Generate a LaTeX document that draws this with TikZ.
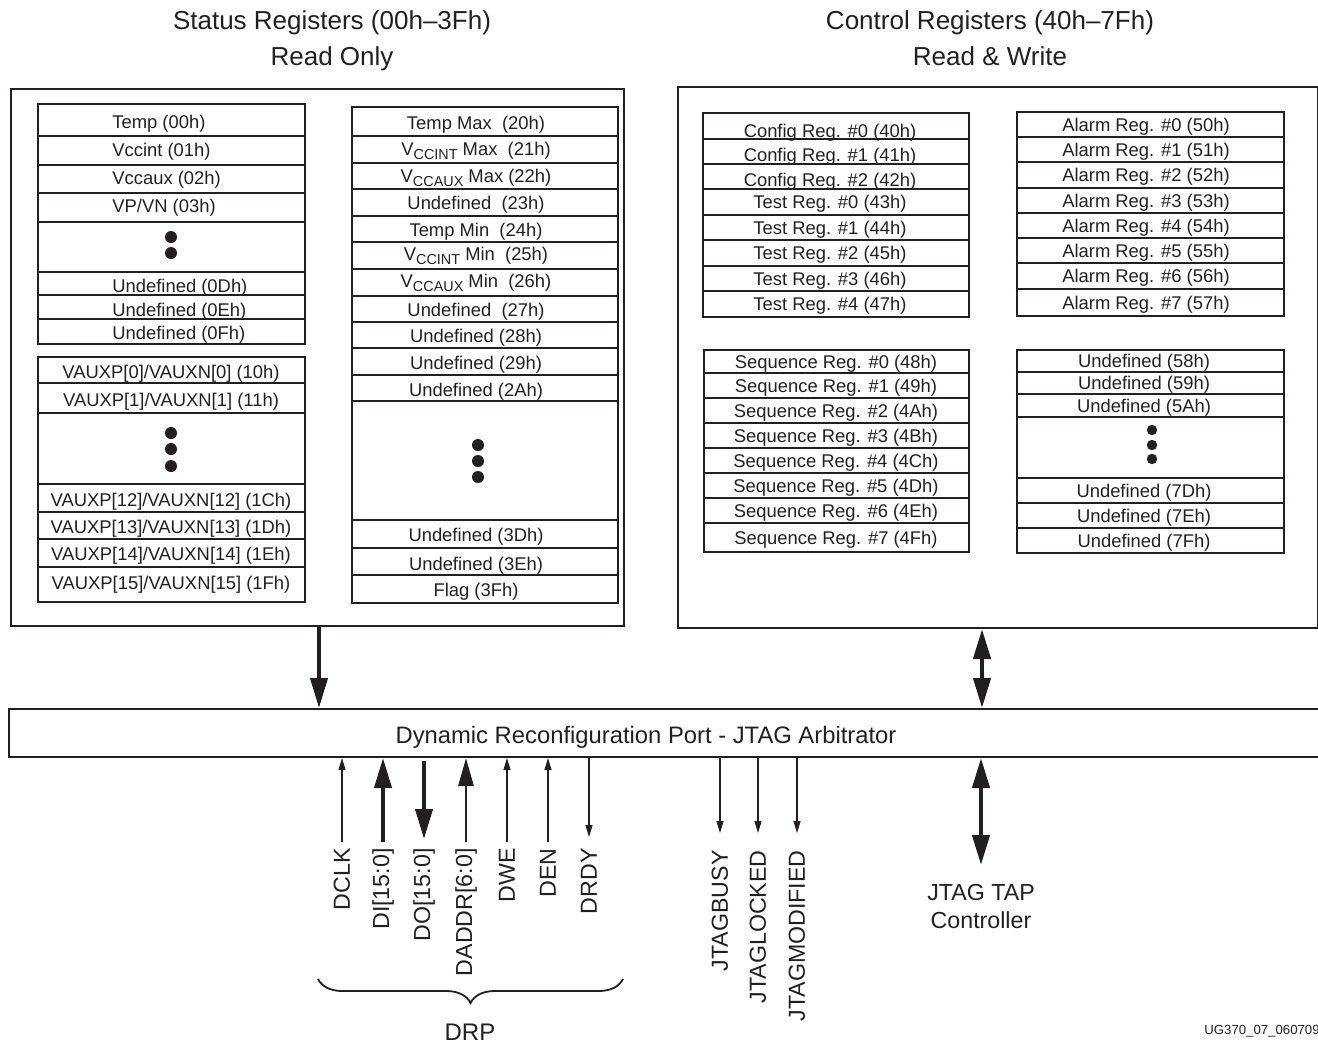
\documentclass[tikz,border=0pt]{standalone}
\usepackage{fontspec}
\setmainfont{Liberation Sans}
\usetikzlibrary{arrows.meta,decorations.pathreplacing}
\definecolor{ink}{RGB}{35,31,32}
\newcommand{\vsub}[1]{V\raisebox{-2.3pt}{\fontsize{7.2}{8}\selectfont #1}}
\tikzset{
  bigbox/.style={draw=ink, line width=1pt, rectangle, inner sep=0pt, anchor=north west},
  regbox/.style={draw=ink, line width=1.3pt},
  regline/.style={draw=ink, line width=0.6pt},
  reg/.style={text=ink, inner sep=0pt, font=\fontsize{9.2}{11}\selectfont},
  title/.style={text=ink, inner sep=0pt, font=\fontsize{13}{15}\selectfont},
  sig/.style={text=ink, inner sep=0pt, rotate=90, anchor=east, font=\fontsize{11.6}{14}\selectfont},
  thinarrow/.style={draw=ink, line width=0.6pt, -{Triangle[length=6pt,width=3.5pt]}},
  busarrow/.style={draw=ink, line width=2pt, -{Triangle[length=15pt,width=8.5pt]}},
  midarrow/.style={draw=ink, line width=1.4pt, -{Triangle[length=14pt,width=7.5pt]}},
  dblarrow/.style={draw=ink, line width=2.2pt, {Triangle[length=15pt,width=8.5pt]}-{Triangle[length=15pt,width=8.5pt]}}
}
\begin{document}
\begin{tikzpicture}[x=0.5pt,y=-0.5pt]
\useasboundingbox (0,0) rectangle (1318,1046);

\draw (332,23) node[title] (sttitle) {Status Registers (00h--3Fh)};
\draw (332,59) node[title] (stmode) {Read Only};
\draw (990,23) node[title] (cttitle) {Control Registers (40h--7Fh)};
\draw (990,56) node[title] (ctmode) {Read \& Write};

\draw (10,88) node[bigbox, minimum width=306.5pt, minimum height=268.5pt] (status) {};
\draw (677,86) node[bigbox, minimum width=320pt, minimum height=270.5pt] (control) {};
\draw (8,708) node[bigbox, minimum width=656.5pt, minimum height=24pt] (drp) {};
\draw (646,737) node[text=ink, inner sep=0pt, font=\fontsize{11.9}{14}\selectfont] (drptext) {Dynamic Reconfiguration Port - JTAG Arbitrator};

% status registers 00h-0Fh
\draw[regline] (38,136) -- (305,136) (38,165) -- (305,165) (38,193) -- (305,193)
  (38,222) -- (305,222) (38,272) -- (305,272) (38,295) -- (305,295) (38,319) -- (305,319);
\draw[regbox] (38,104) rectangle (305,344);
\draw (112,123.5) node[reg, anchor=west] (temp) {Temp (00h)};
\draw (112,151.5) node[reg, anchor=west] (vccint) {Vccint (01h)};
\draw (112,179.5) node[reg, anchor=west] (vccaux) {Vccaux (02h)};
\draw (112,207.5) node[reg, anchor=west] (vpvn) {VP/VN (03h)};
\fill[ink] (171,237) circle (3pt) (171,253) circle (3pt);
\draw (112,288) node[reg, anchor=west] (undefOD) {Undefined (0Dh)};
\draw (112,312) node[reg, anchor=west] (undefOE) {Undefined (0Eh)};
\draw (112,334.5) node[reg, anchor=west] (undefOF) {Undefined (0Fh)};

% status registers 10h-1Fh
\draw[regline] (38,383) -- (305,383) (38,413) -- (305,413) (38,484) -- (305,484)
  (38,512) -- (305,512) (38,539) -- (305,539) (38,567) -- (305,567);
\draw[regbox] (38,357) rectangle (305,602);
\draw (171,374) node[reg] (aux0) {VAUXP[0]/VAUXN[0] (10h)};
\draw (171,402) node[reg] (aux1) {VAUXP[1]/VAUXN[1] (11h)};
\fill[ink] (171,433) circle (3pt) (171,449) circle (3pt) (171,466) circle (3pt);
\draw (171,502) node[reg] (aux12) {VAUXP[12]/VAUXN[12] (1Ch)};
\draw (171,529) node[reg] (aux13) {VAUXP[13]/VAUXN[13] (1Dh)};
\draw (171,556) node[reg] (aux14) {VAUXP[14]/VAUXN[14] (1Eh)};
\draw (171,585) node[reg] (aux15) {VAUXP[15]/VAUXN[15] (1Fh)};

% status registers 20h-3Fh
\draw[regline] (352,136) -- (618,136) (352,163) -- (618,163) (352,189) -- (618,189)
  (352,216) -- (618,216) (352,242) -- (618,242) (352,269) -- (618,269) (352,296) -- (618,296)
  (352,322) -- (618,322) (352,348) -- (618,348) (352,375) -- (618,375) (352,401) -- (618,401)
  (352,520) -- (618,520) (352,548) -- (618,548) (352,575) -- (618,575);
\draw[regbox] (352,107) rectangle (618,603);
\draw (476,125) node[reg] (tmax) {Temp Max~ (20h)};
\draw (476,151) node[reg] (imax) {\vsub{CCINT} Max~ (21h)};
\draw (476,178) node[reg] (amax) {\vsub{CCAUX} Max (22h)};
\draw (476,205) node[reg] (undefXXIII) {Undefined~ (23h)};
\draw (476,232) node[reg] (tmin) {Temp Min~ (24h)};
\draw (476,256) node[reg] (imin) {\vsub{CCINT} Min~ (25h)};
\draw (476,283) node[reg] (amin) {\vsub{CCAUX} Min~ (26h)};
\draw (476,312) node[reg] (undefXXVII) {Undefined~ (27h)};
\draw (476,338) node[reg] (undefXXVIII) {Undefined (28h)};
\draw (476,365) node[reg] (undefXXIX) {Undefined (29h)};
\draw (476,392) node[reg] (undefIIA) {Undefined (2Ah)};
\fill[ink] (478,445) circle (3pt) (478,461) circle (3pt) (478,477) circle (3pt);
\draw (476,537) node[reg] (undefIIID) {Undefined (3Dh)};
\draw (476,566) node[reg] (undefIIIE) {Undefined (3Eh)};
\draw (476,592) node[reg] (flag) {Flag (3Fh)};

% config and test registers
\draw[regline] (703,139) -- (969,139) (703,164) -- (969,164) (703,189) -- (969,189)
  (703,215) -- (969,215) (703,240) -- (969,240) (703,266) -- (969,266) (703,291) -- (969,291);
\draw[regbox] (703,113) rectangle (969,317);
\draw (830,133) node[reg] (cfg0) {Config Reg. \#0 (40h)};
\draw (830,157) node[reg] (cfg1) {Config Reg. \#1 (41h)};
\draw (830,182) node[reg] (cfg2) {Config Reg. \#2 (42h)};
\draw (830,204) node[reg] (test0) {Test Reg. \#0 (43h)};
\draw (830,229.5) node[reg] (test1) {Test Reg. \#1 (44h)};
\draw (830,255) node[reg] (test2) {Test Reg. \#2 (45h)};
\draw (830,280.5) node[reg] (test3) {Test Reg. \#3 (46h)};
\draw (830,305.5) node[reg] (test4) {Test Reg. \#4 (47h)};

% alarm registers
\draw[regline] (1017,137) -- (1284,137) (1017,162) -- (1284,162) (1017,188) -- (1284,188)
  (1017,213) -- (1284,213) (1017,238) -- (1284,238) (1017,263) -- (1284,263) (1017,289) -- (1284,289);
\draw[regbox] (1017,112) rectangle (1284,316);
\draw (1146,126.5) node[reg] (alarm0) {Alarm Reg. \#0 (50h)};
\draw (1146,151.5) node[reg] (alarm1) {Alarm Reg. \#1 (51h)};
\draw (1146,177) node[reg] (alarm2) {Alarm Reg. \#2 (52h)};
\draw (1146,202.5) node[reg] (alarm3) {Alarm Reg. \#3 (53h)};
\draw (1146,227.5) node[reg] (alarm4) {Alarm Reg. \#4 (54h)};
\draw (1146,252.5) node[reg] (alarm5) {Alarm Reg. \#5 (55h)};
\draw (1146,278) node[reg] (alarm6) {Alarm Reg. \#6 (56h)};
\draw (1146,304.5) node[reg] (alarm7) {Alarm Reg. \#7 (57h)};

% sequence registers
\draw[regline] (704,373) -- (969,373) (704,398) -- (969,398) (704,423) -- (969,423)
  (704,448) -- (969,448) (704,473) -- (969,473) (704,498) -- (969,498) (704,523) -- (969,523);
\draw[regbox] (704,350) rectangle (969,552);
\draw (836,363.5) node[reg] (seq0) {Sequence Reg. \#0 (48h)};
\draw (836,387.5) node[reg] (seq1) {Sequence Reg. \#1 (49h)};
\draw (836,412.5) node[reg] (seq2) {Sequence Reg. \#2 (4Ah)};
\draw (836,437.5) node[reg] (seq3) {Sequence Reg. \#3 (4Bh)};
\draw (836,462.5) node[reg] (seq4) {Sequence Reg. \#4 (4Ch)};
\draw (836,487.5) node[reg] (seq5) {Sequence Reg. \#5 (4Dh)};
\draw (836,512.5) node[reg] (seq6) {Sequence Reg. \#6 (4Eh)};
\draw (836,539.5) node[reg] (seq7) {Sequence Reg. \#7 (4Fh)};

% undefined control registers
\draw[regline] (1017,372) -- (1284,372) (1017,394) -- (1284,394) (1017,417) -- (1284,417)
  (1017,478) -- (1284,478) (1017,503) -- (1284,503) (1017,528) -- (1284,528);
\draw[regbox] (1017,350) rectangle (1284,553);
\draw (1144,362.5) node[reg] (undefVIII) {Undefined (58h)};
\draw (1144,385) node[reg] (undefIX) {Undefined (59h)};
\draw (1144,407.5) node[reg] (undefVA) {Undefined (5Ah)};
\fill[ink] (1152,430) circle (2.6pt) (1152,445) circle (2.6pt) (1152,459) circle (2.6pt);
\draw (1144,492.5) node[reg] (undefVIID) {Undefined (7Dh)};
\draw (1144,517.5) node[reg] (undefVIIE) {Undefined (7Eh)};
\draw (1144,542.5) node[reg] (undefVIIF) {Undefined (7Fh)};

% port signals
\draw (342,848) node[sig] (dclk) {DCLK};
\draw (383,848) node[sig] (di) {DI[15:0]};
\draw (424,848) node[sig] (do) {DO[15:0]};
\draw (466,848) node[sig] (daddr) {DADDR[6:0]};
\draw (507,848) node[sig] (dwe) {DWE};
\draw (548,848) node[sig] (den) {DEN};
\draw (589,848) node[sig] (drdy) {DRDY};
\draw (720,850) node[sig] (busy) {JTAGBUSY};
\draw (758,850) node[sig] (locked) {JTAGLOCKED};
\draw (797,850) node[sig] (modified) {JTAGMODIFIED};
\draw (981,884) node[text=ink, inner sep=0pt, anchor=north, align=center, font=\fontsize{11.6}{14}\selectfont] (jtag) {JTAG TAP\\Controller};
\draw (470,1032) node[text=ink, inner sep=0pt, font=\fontsize{12}{14}\selectfont] (drpname) {DRP};
\draw (1204,1034) node[text=ink, inner sep=0pt, anchor=base west, font=\fontsize{6.6}{8}\selectfont] (figid) {UG370\_07\_060709};

\draw[busarrow] (status.south -| 319,0) -- (drp.north -| 319,0);
\draw[dblarrow] (control.south -| 982,0) -- (drp.north -| 982,0);
\draw[dblarrow, shorten >=9.5pt] (drp.south -| jtag.north) -- (jtag.north);

\draw[thinarrow, shorten <=3pt] (dclk.east) -- (dclk.east |- drp.south);
\draw[busarrow, shorten <=3pt] (di.east) -- (di.east |- drp.south);
\draw[busarrow, shorten <=1.5pt, shorten >=4.5pt] (do.east |- drp.south) -- (do.east);
\draw[midarrow, shorten <=3pt] (daddr.east) -- (daddr.east |- drp.south);
\draw[thinarrow, shorten <=3pt] (dwe.east) -- (dwe.east |- drp.south);
\draw[thinarrow, shorten <=3pt] (den.east) -- (den.east |- drp.south);
\draw[thinarrow, shorten >=5.5pt] (drdy.east |- drp.south) -- (drdy.east);
\draw[thinarrow, shorten >=8.5pt] (busy.east |- drp.south) -- (busy.east);
\draw[thinarrow, shorten >=8.5pt] (locked.east |- drp.south) -- (locked.east);
\draw[thinarrow, shorten >=8.5pt] (modified.east |- drp.south) -- (modified.east);

\draw[draw=ink, line width=0.9pt, decorate, decoration={brace, mirror, amplitude=12pt}] (318,979) -- (623,979);
\end{tikzpicture}
\end{document}
